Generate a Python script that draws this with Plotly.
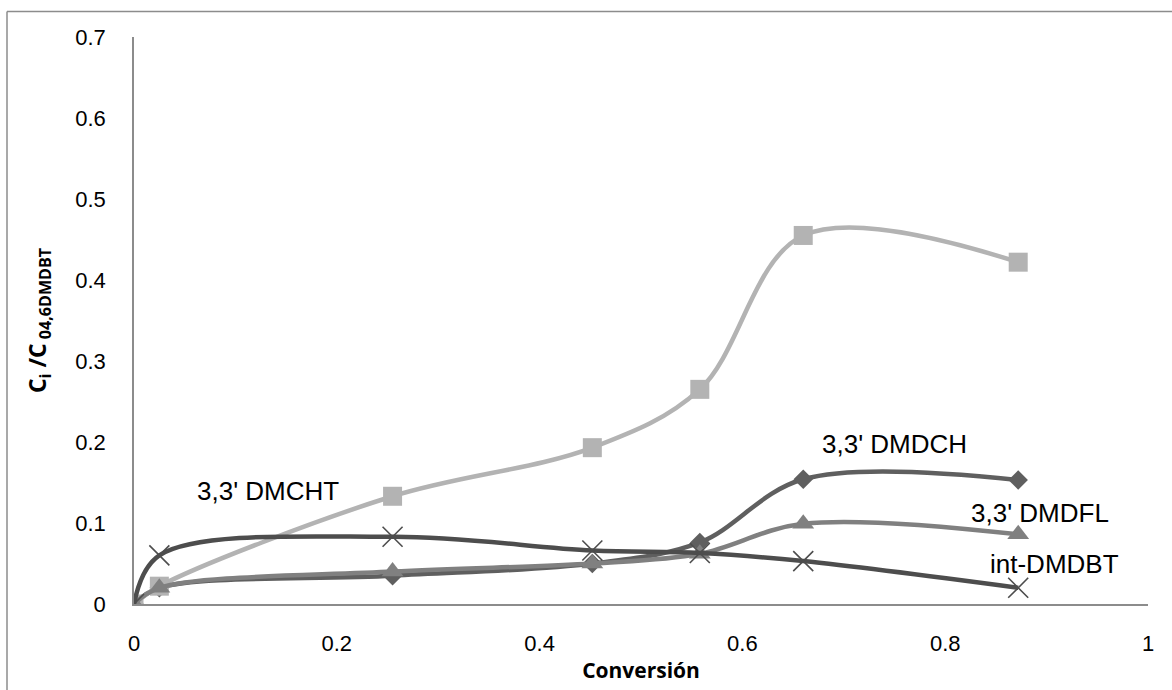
import plotly.graph_objects as go

# Conversion values (shared by all products)
conversion = [0, 0.025, 0.255, 0.452, 0.558, 0.66, 0.872]

# Ci / C0 for each product
dmdch = [0, 0.020, 0.035, 0.050, 0.076, 0.154, 0.153]
dmcht = [0, 0.022, 0.133, 0.193, 0.265, 0.455, 0.422]
dmdfl = [0, 0.020, 0.040, 0.050, 0.062, 0.099, 0.086]
int_dmdbt = [0, 0.060, 0.083, 0.066, 0.063, 0.053, 0.020]

x_ticks = [0, 0.2, 0.4, 0.6, 0.8, 1]
x_tick_text = ["0", "0.2", "0.4", "0.6", "0.8", "1"]
y_ticks = [0, 0.1, 0.2, 0.3, 0.4, 0.5, 0.6, 0.7]
y_tick_text = ["0", "0.1", "0.2", "0.3", "0.4", "0.5", "0.6", "0.7"]

labels = ["3,3' DMCHT", "3,3' DMDCH", "3,3' DMDFL", "int-DMDBT"]
label_x = [0.132, 0.750, 0.893, 0.908]
label_y = [0.140, 0.198, 0.112, 0.049]

# Plot-area geometry in pixels
FIG_W, FIG_H = 1172, 690
M_L, M_R, M_T, M_B = 134, 24, 37, 86
PLOT_W = FIG_W - M_L - M_R
PLOT_H = FIG_H - M_T - M_B

fig = go.Figure()

fig.add_trace(go.Scatter(
    x=conversion, y=dmdch, mode="lines+markers", name="3,3' DMDCH",
    line=dict(color="#5f5f5f", width=4.5, shape="spline", smoothing=1),
    marker=dict(symbol="diamond", size=15, color="#5f5f5f"),
))
fig.add_trace(go.Scatter(
    x=conversion, y=dmcht, mode="lines+markers", name="3,3' DMCHT",
    line=dict(color="#b3b3b3", width=4.5, shape="spline", smoothing=1),
    marker=dict(symbol="square", size=19, color="#b3b3b3"),
))
fig.add_trace(go.Scatter(
    x=conversion, y=dmdfl, mode="lines+markers", name="3,3' DMDFL",
    line=dict(color="#808080", width=4.5, shape="spline", smoothing=1),
    marker=dict(symbol="triangle-up", size=19, color="#808080"),
))
fig.add_trace(go.Scatter(
    x=conversion, y=int_dmdbt, mode="lines+markers", name="int-DMDBT",
    line=dict(color="#4d4d4d", width=4.5, shape="spline", smoothing=1),
    marker=dict(symbol="x-thin", size=20, color="#4d4d4d",
                line=dict(color="#4d4d4d", width=1.6)),
))

label_font = dict(family="Liberation Sans", size=26, color="#000000")
for txt, lx, ly in zip(labels, label_x, label_y):
    fig.add_annotation(x=lx, y=ly, xref="x", yref="y", text=txt, showarrow=False,
                       font=label_font)

# Chart-area border (left and top edges)
bx = (7 - M_L) / PLOT_W
by = (FIG_H - M_B - 11.5) / PLOT_H
fig.add_shape(type="line", xref="paper", yref="paper", x0=bx, x1=bx,
              y0=-M_B / PLOT_H, y1=by, line=dict(color="#8c8c8c", width=1.5))
fig.add_shape(type="line", xref="paper", yref="paper", x0=bx, x1=1.1,
              y0=by, y1=by, line=dict(color="#8c8c8c", width=1.5))

tick_font = dict(family="Liberation Sans", size=22, color="#000000")

fig.update_layout(
    width=FIG_W, height=FIG_H,
    margin=dict(l=M_L, r=M_R, t=M_T, b=M_B),
    paper_bgcolor="white", plot_bgcolor="white",
    showlegend=False,
    font=tick_font,
    xaxis=dict(
        range=[0, 1], tickvals=x_ticks, ticktext=x_tick_text,
        showgrid=False, zeroline=False, showline=True, linecolor="#8c8c8c", linewidth=1.5,
        ticks="", tickfont=tick_font, ticklabelstandoff=19,
        title=dict(text="<b>Conversión</b>", standoff=8,
                   font=dict(family="Open Sans", size=21, color="#000000")),
    ),
    yaxis=dict(
        range=[0, 0.7], tickvals=y_ticks, ticktext=y_tick_text,
        showgrid=False, zeroline=False, showline=True, linecolor="#8c8c8c", linewidth=1.5,
        ticks="", tickfont=tick_font, ticklabelstandoff=22,
        title=dict(text="<b>C<sub>i</sub> /C<sub> 04,6DMDBT</sub></b>", standoff=22,
                   font=dict(family="Open Sans", size=23, color="#000000")),
    ),
)

fig.write_html("out.html")
